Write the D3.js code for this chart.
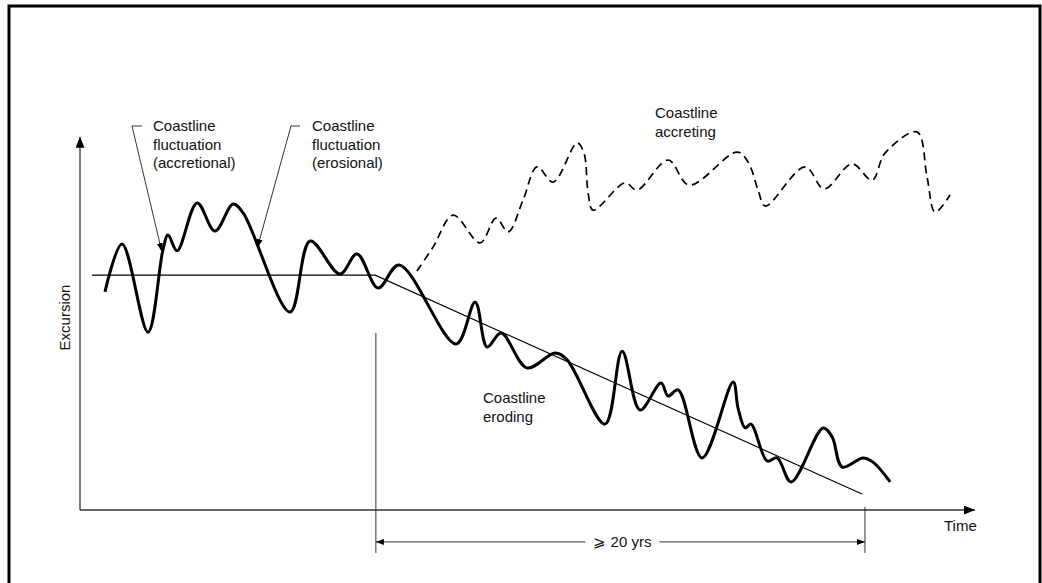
<!DOCTYPE html>
<html><head><meta charset="utf-8">
<script src="https://cdn.jsdelivr.net/npm/d3@7"></script>
<style>body{margin:0;background:#fff}svg{display:block}text{font-family:"Liberation Sans",Arial,sans-serif;font-size:15px;fill:#111}</style>
</head><body>
<script>
// Time (years) and excursion (arbitrary units)
const erodingTime = [1.02,1.72,2.78,3.39,3.60,3.97,4.79,5.52,6.26,6.67,8.59,9.41,10.63,11.33,12.19,13.05,15.38,16.16,16.65,17.22,18.28,19.43,19.92,21.47,22.17,22.90,23.76,24.05,24.46,25.44,26.71,26.91,27.20,27.44,28.10,28.51,29.08,30.39,30.76,31.17,32.02,32.43,33.13];
const erodingExc  = [5.74,7.00,4.68,6.84,7.24,6.82,8.08,7.34,8.05,7.82,5.21,7.08,6.21,6.74,5.84,6.45,4.37,5.47,4.29,4.66,3.74,4.13,3.95,2.26,4.18,2.63,3.34,3.00,3.16,1.37,3.37,2.68,2.16,2.26,1.29,1.37,0.74,2.16,1.92,1.13,1.37,1.26,0.74];
const accretingTime = [13.78,14.44,15.26,16.36,17.01,17.51,18.12,18.69,19.35,20.33,20.61,20.78,20.98,22.29,22.78,24.05,24.91,26.87,27.32,27.73,28.02,29.65,30.43,31.57,32.39,32.92,34.23,34.64,34.97,35.58];
const accretingExc  = [6.29,6.92,7.76,7.03,7.68,7.32,8.16,9.03,8.63,9.66,9.39,8.34,7.89,8.61,8.42,9.21,8.55,9.42,9.16,8.42,8.00,9.03,8.45,9.11,8.68,9.39,9.95,8.76,7.84,8.29];
const trendTime = [0.49,12.07,31.98];
const trendExc  = [6.18,6.18,0.42];
const spanStart = 12.1, spanEnd = 32.1;
const axisLabels = {x:"Time", y:"Excursion", span:"\u2A7E 20 yrs"};
const notes = [
  {lines:["Coastline","fluctuation","(accretional)"]},
  {lines:["Coastline","fluctuation","(erosional)"]},
  {lines:["Coastline","accreting"]},
  {lines:["Coastline","eroding"]}
];

const W=1042,H=583;
const svg=d3.select("body").append("svg").attr("width",W).attr("height",H);
const x=d3.scaleLinear().domain([0,36.6]).range([80,975]);
const y=d3.scaleLinear().domain([0,10]).range([510,130]);

const defs=svg.append("defs");
function marker(id,w,l){
  defs.append("marker").attr("id",id).attr("viewBox",`0 ${-w/2} ${l} ${w}`)
    .attr("refX",l).attr("refY",0).attr("markerWidth",l).attr("markerHeight",w)
    .attr("markerUnits","userSpaceOnUse").attr("orient","auto-start-reverse")
    .append("path").attr("d",`M0,${-w/2}L${l},0L0,${w/2}Z`).attr("fill","#000");
}
marker("ax",9,11);
marker("sm",6,9);
marker("dim",6,8);

// frame
svg.append("rect").attr("x",9).attr("y",6).attr("width",1031).attr("height",600)
  .attr("fill","none").attr("stroke","#000").attr("stroke-width",3);

// axes
svg.append("line").attr("x1",x(0)).attr("y1",y(0)).attr("x2",x(0)).attr("y2",y(9.82))
  .attr("stroke","#333").attr("stroke-width",1.3).attr("marker-end","url(#ax)");
svg.append("line").attr("x1",x(0)).attr("y1",y(0)).attr("x2",x(36.6)).attr("y2",y(0))
  .attr("stroke","#333").attr("stroke-width",1.3).attr("marker-end","url(#ax)");

svg.append("text").attr("transform",`translate(70,${y(4.2)}) rotate(-90)`).text(axisLabels.y);
svg.append("text").attr("x",944).attr("y",531).text(axisLabels.x);

// span dimension
svg.append("line").attr("x1",x(spanStart)).attr("x2",x(spanStart)).attr("y1",y(4.66)).attr("y2",y(-1.13))
  .attr("stroke","#333").attr("stroke-width",1);
svg.append("line").attr("x1",x(spanEnd)).attr("x2",x(spanEnd)).attr("y1",y(0.08)).attr("y2",y(-1.13))
  .attr("stroke","#333").attr("stroke-width",1);
const dy=y(-0.84);
const spanText=svg.append("text").attr("x",(x(spanStart)+x(spanEnd))/2+2).attr("y",dy+5)
  .attr("text-anchor","middle").text(axisLabels.span);
const bb=spanText.node().getBBox();
svg.append("line").attr("x1",bb.x-8).attr("x2",x(spanStart)).attr("y1",dy).attr("y2",dy)
  .attr("stroke","#333").attr("stroke-width",1).attr("marker-end","url(#dim)");
svg.append("line").attr("x1",bb.x+bb.width+8).attr("x2",x(spanEnd)).attr("y1",dy).attr("y2",dy)
  .attr("stroke","#333").attr("stroke-width",1).attr("marker-end","url(#dim)");

// trend line
const lin=d3.line().x(d=>x(d[0])).y(d=>y(d[1]));
svg.append("path").datum(d3.zip(trendTime,trendExc)).attr("d",lin)
  .attr("fill","none").attr("stroke","#000").attr("stroke-width",1.1);

const smooth=d3.line().x(d=>x(d[0])).y(d=>y(d[1])).curve(d3.curveCatmullRom.alpha(0.5));
svg.append("path").datum(d3.zip(accretingTime,accretingExc)).attr("d",smooth)
  .attr("fill","none").attr("stroke","#000").attr("stroke-width",1.7).attr("stroke-dasharray","8,5");
svg.append("path").datum(d3.zip(erodingTime,erodingExc)).attr("d",smooth)
  .attr("fill","none").attr("stroke","#000").attr("stroke-width",3).attr("stroke-linejoin","round");

// notes
const notePos=[[153,131],[312,131],[655,118],[483,403]];
notes.forEach((n,i)=>{
  n.lines.forEach((t,j)=>svg.append("text").attr("x",notePos[i][0]).attr("y",notePos[i][1]+j*18.5).text(t));
});
// leader lines
const leaders=[[[142,126],[132,126],[x(3.35),y(6.79)]],[[300,126],[291,126],[x(7.25),y(6.89)]]];
leaders.forEach(p=>{
  svg.append("path").attr("d",d3.line()(p)).attr("fill","none").attr("stroke","#333")
    .attr("stroke-width",1).attr("marker-end","url(#sm)");
});
</script>
</body></html>
